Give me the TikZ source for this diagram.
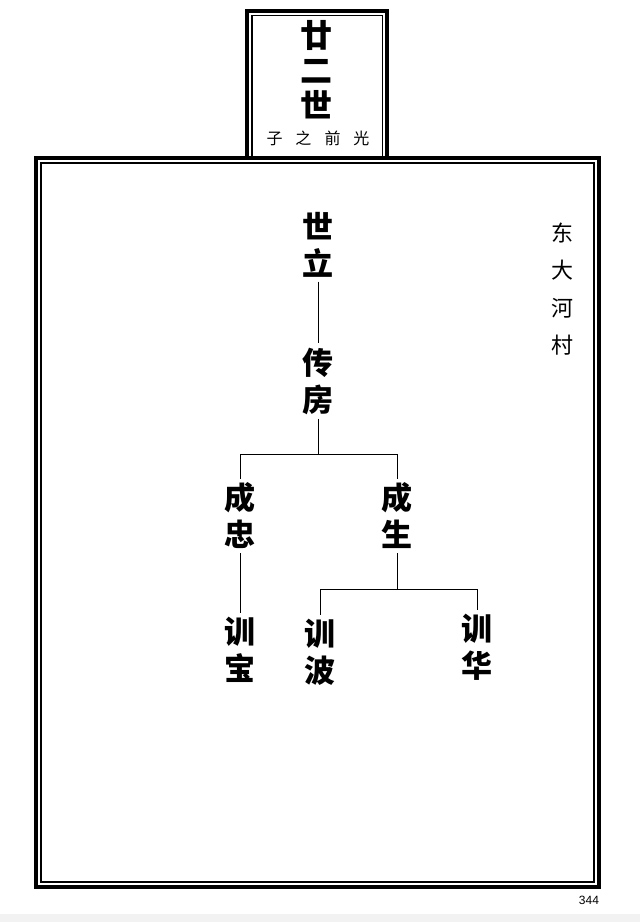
\documentclass[tikz,border=0pt]{standalone}
\usepackage{fontspec}
\newfontfamily\cjk{Noto Sans CJK SC}
\newfontfamily\numfont{Liberation Sans}
\begin{document}
\begin{tikzpicture}[x=1pt,y=-1pt,
  namebox/.style={font=\cjk\bfseries\fontsize{31}{37}\selectfont, align=center, inner xsep=3pt, inner ysep=4pt},
  conn/.style={line width=1pt},
  thickframe/.style={line width=3.8pt},
  thinframe/.style={line width=1.3pt}]
\useasboundingbox[fill=white] (0,0) rectangle (640,922);
\fill[black!5] (0,914) rectangle (640,922);
% header box
\draw[thickframe] (247,158) -- (247,11) -- (387,11) -- (387,158);
\draw[thinframe] (252,158) -- (252,15.5) -- (382.5,15.5) -- (382.5,158);
% main frame
\draw[thickframe] (36,158) rectangle (599,887);
\draw[thinframe] (41,163) rectangle (594,882);
% header texts
\node[namebox, font=\cjk\bfseries\fontsize{32}{35}\selectfont] (gen) at (316,70) {廿\\二\\世};
\node[font=\cjk\fontsize{16}{16}\selectfont] (son) at (318,138) {子\hspace{13pt}之\hspace{13pt}前\hspace{13pt}光};
% village
\node[font=\cjk\fontsize{22}{37.5}\selectfont, align=center] (vil) at (562,289) {东\\大\\河\\村};
% names
\node[namebox] (sl) at (318,245) {世\\立};
\node[namebox] (cf) at (318,381) {传\\房};
\node[namebox] (cz) at (240,516) {成\\忠};
\node[namebox] (cs) at (397,516) {成\\生};
\node[namebox] (xb) at (240,650) {训\\宝};
\node[namebox] (xp) at (320,652) {训\\波};
\node[namebox] (xh) at (477,647) {训\\华};
% connectors
\coordinate (bar1) at (0,454);
\coordinate (bar2) at (0,589);
\draw[conn] (sl.south) -- (cf.north);
\draw[conn] (cf.south) -- (cf.south |- bar1);
\draw[conn] (cz.north) -- (cz.north |- bar1) -- (cs.north |- bar1) -- (cs.north);
\draw[conn] (cz.south) -- (xb.north);
\draw[conn] (cs.south) -- (cs.south |- bar2);
\draw[conn] (xp.north) -- (xp.north |- bar2) -- (xh.north |- bar2) -- (xh.north);
% page number
\node[font=\numfont\fontsize{12}{12}\selectfont, inner sep=0pt] (pg) at (589,900) {344};
\end{tikzpicture}
\end{document}
